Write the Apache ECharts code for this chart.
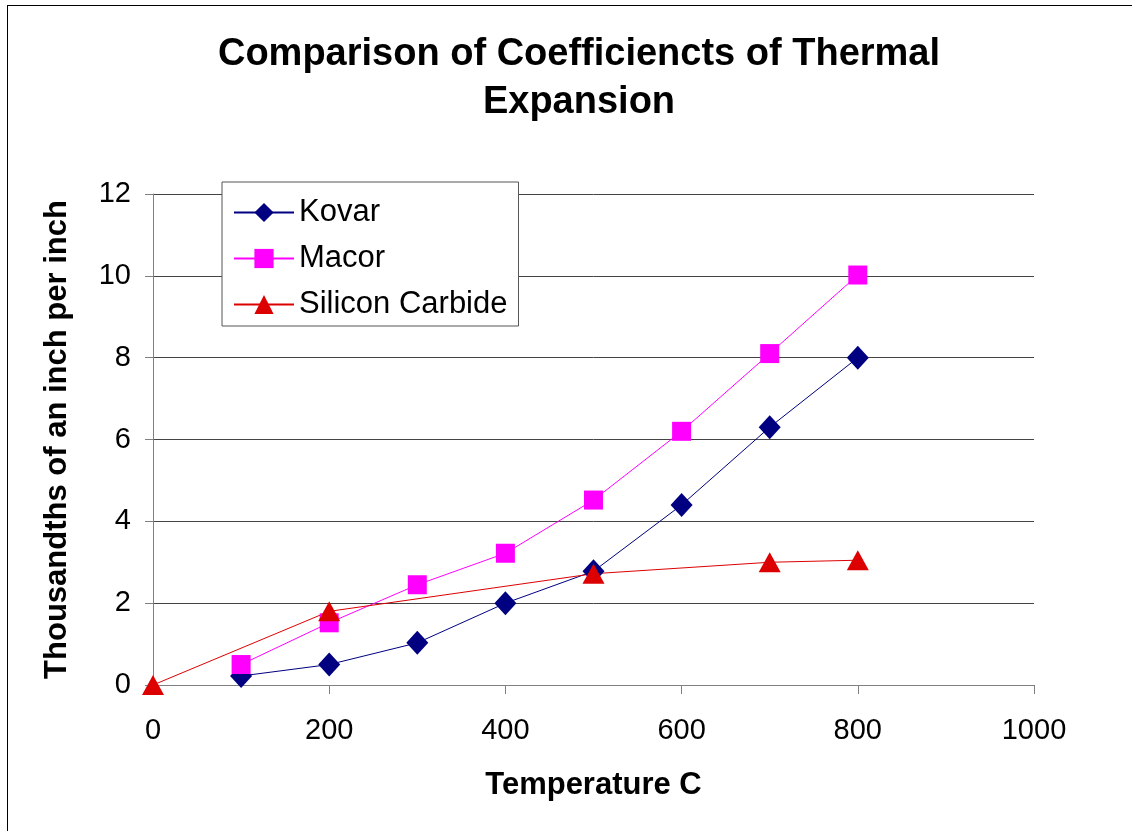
<!DOCTYPE html>
<html>
<head>
<meta charset="utf-8">
<script src="https://cdn.jsdelivr.net/npm/echarts@6/dist/echarts.min.js"></script>
<style>
  html, body { margin: 0; padding: 0; background: #fff; }
  #chart { width: 1132px; height: 831px; }
  #frame { position: absolute; left: 7px; top: 5px; width: 1140px; height: 840px; border: 1px solid #000; pointer-events: none; }
</style>
</head>
<body>
<div id="chart"></div>
<div id="frame"></div>
<script>
var kovarData = [[100, 0.22], [200, 0.5], [300, 1.03], [400, 2.0], [500, 2.78], [600, 4.4], [700, 6.3], [800, 8.0]];
var macorData = [[100, 0.5], [200, 1.52], [300, 2.45], [400, 3.22], [500, 4.52], [600, 6.2], [700, 8.1], [800, 10.02]];
var sicData = [[0, 0], [200, 1.8], [500, 2.72], [700, 3.0], [800, 3.05]];
var seriesNames = ['Kovar', 'Macor', 'Silicon Carbide'];

var font = 'Liberation Sans, Arial, sans-serif';
var myChart = echarts.init(document.getElementById('chart'));

var option = {
    backgroundColor: '#fff',
    animation: false,
    title: {
        text: 'Comparison of Coefficiencts of Thermal\nExpansion',
        left: 574,
        textAlign: 'center',
        top: 26,
        textStyle: {
            fontFamily: font,
            fontSize: 38,
            fontWeight: 'bold',
            color: '#000',
            lineHeight: 48
        }
    },
    legend: {
        orient: 'vertical',
        left: 222,
        top: 182,
        data: seriesNames,
        backgroundColor: '#fff',
        borderColor: '#555',
        borderWidth: 1,
        padding: [15, 11, 6, 11],
        itemWidth: 60,
        itemHeight: 24,
        itemGap: 15,
        textStyle: {
            fontFamily: font,
            fontSize: 31,
            color: '#000'
        }
    },
    grid: {
        left: 153,
        right: 98,
        top: 194,
        bottom: 146
    },
    xAxis: {
        type: 'value',
        min: 0,
        max: 1000,
        interval: 200,
        name: 'Temperature C',
        nameLocation: 'middle',
        nameGap: 85,
        nameTextStyle: {
            fontFamily: font,
            fontSize: 31,
            fontWeight: 'bold',
            color: '#000'
        },
        axisLine: { lineStyle: { color: '#808080', width: 1 } },
        axisTick: { show: true, length: 9, inside: false, lineStyle: { color: '#808080' } },
        axisLabel: {
            fontFamily: font, fontSize: 29, color: '#000', margin: 31,
            formatter: function (v) { return String(v); }
        },
        splitLine: { show: false }
    },
    yAxis: {
        type: 'value',
        min: 0,
        max: 12,
        interval: 2,
        name: 'Thousandths of an inch per inch',
        nameLocation: 'middle',
        nameGap: 80,
        nameTextStyle: {
            fontFamily: font,
            fontSize: 31,
            fontWeight: 'bold',
            color: '#000'
        },
        axisLine: { show: true, lineStyle: { color: '#808080', width: 1 } },
        axisTick: { show: true, length: 8, lineStyle: { color: '#808080' } },
        axisLabel: { fontFamily: font, fontSize: 29, color: '#000', margin: 22 },
        splitLine: { show: true, lineStyle: { color: '#444', width: 1 } }
    },
    series: [
        {
            name: seriesNames[0],
            type: 'line',
            data: kovarData,
            symbol: 'diamond',
            symbolSize: [22, 24],
            color: '#000080',
            lineStyle: { width: 1, color: '#000080' },
            itemStyle: { color: '#000080' }
        },
        {
            name: seriesNames[1],
            type: 'line',
            data: macorData,
            symbol: 'rect',
            symbolSize: 19,
            color: '#ff00ff',
            lineStyle: { width: 1, color: '#ff00ff' },
            itemStyle: { color: '#ff00ff' }
        },
        {
            name: seriesNames[2],
            type: 'line',
            data: sicData,
            symbol: 'triangle',
            symbolSize: [22, 20],
            color: '#dd0000',
            lineStyle: { width: 1, color: '#dd0000' },
            itemStyle: { color: '#dd0000' }
        }
    ]
};

myChart.setOption(option);
</script>
</body>
</html>
